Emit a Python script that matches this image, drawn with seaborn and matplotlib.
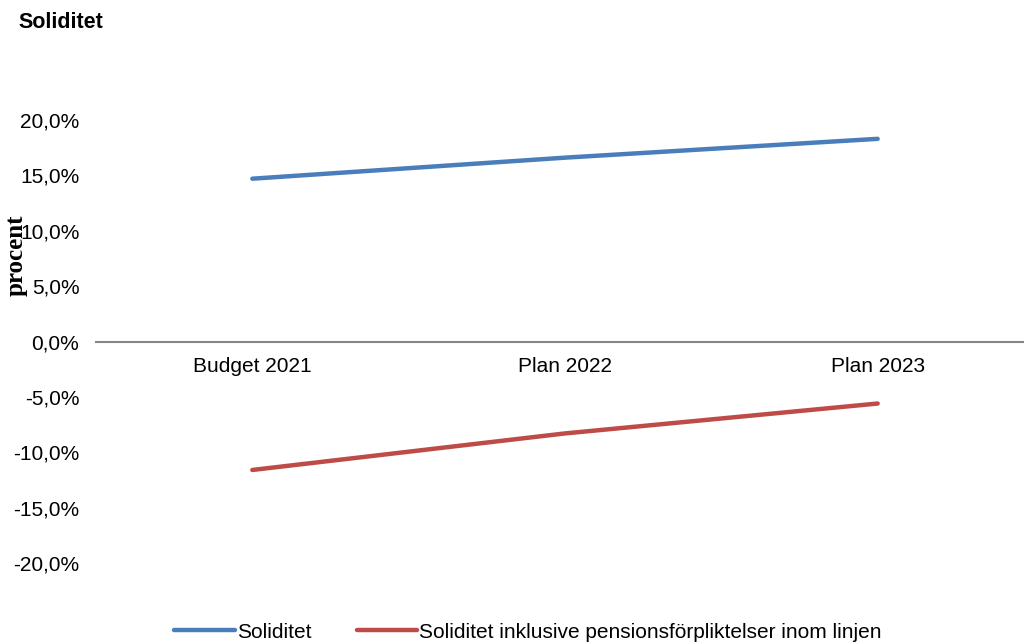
import matplotlib
matplotlib.use("Agg")
import matplotlib.pyplot as plt
import matplotlib.ticker as mticker
from matplotlib.lines import Line2D
import seaborn as sns
import pandas as pd

categories = ["Budget 2021", "Plan 2022", "Plan 2023"]
soliditet = [14.7, 16.6, 18.3]
soliditet_inkl = [-11.6, -8.3, -5.6]
series_names = ["Soliditet", "Soliditet inklusive pensionsförpliktelser inom linjen"]
y_ticks = [-20, -15, -10, -5, 0, 5, 10, 15, 20]

sns.set_theme(style="white")
plt.rcParams["font.family"] = ["Liberation Sans", "DejaVu Sans"]
plt.rcParams["text.color"] = "black"

df = pd.DataFrame({
    "Kategori": categories * 2,
    "Värde": soliditet + soliditet_inkl,
    "Serie": [series_names[0]] * 3 + [series_names[1]] * 3,
})
df["x"] = df["Kategori"].map({c: i for i, c in enumerate(categories)})

fig = plt.figure(figsize=(10.24, 6.44), dpi=100)
ax = fig.add_axes([96 / 1024, 1 - 563 / 644, (1034 - 96) / 1024, (563 - 120) / 644])

palette = {series_names[0]: "#4A7EBB", series_names[1]: "#BE4B48"}
sns.lineplot(data=df, x="x", y="Värde", hue="Serie", palette=palette,
             linewidth=3.2, ax=ax, legend=False, solid_capstyle="round")

ax.set_xlim(-0.5, 2.5)
ax.set_ylim(-20, 20)
ax.yaxis.set_major_locator(mticker.FixedLocator(y_ticks))
ax.yaxis.set_major_formatter(mticker.FuncFormatter(lambda v, p: f"{v:.1f}%".replace(".", ",")))
ax.set_xticks(range(len(categories)))
ax.set_xticklabels(categories)
for s in ["top", "right", "left"]:
    ax.spines[s].set_visible(False)
ax.spines["bottom"].set_position(("data", 0))
ax.spines["bottom"].set_color("#868686")
ax.spines["bottom"].set_linewidth(1.5)
ax.tick_params(axis="y", length=0, pad=12, labelsize=15, labelcolor="black")
ax.tick_params(axis="x", length=0, pad=11, labelsize=15, labelcolor="black")
ax.set_xlabel("")
ax.set_ylabel("")
ax.grid(False)

fig.text(18 / 1024, 1 - 22 / 644, "Soliditet", fontsize=15.5, fontweight="bold",
         ha="left", va="center", color="black")
fig.text(16 / 1024, 1 - 255 / 644, "procent", fontsize=18, fontweight="bold",
         family=["Liberation Serif", "DejaVu Serif"], rotation=90,
         ha="center", va="center", color="black")

handles = [Line2D([], [], color=palette[n], linewidth=3.2) for n in series_names]
fig.legend(handles, series_names, loc="center", bbox_to_anchor=(528 / 1024, 1 - 632 / 644),
           ncol=2, frameon=False, fontsize=15, handlelength=2.9, handletextpad=0.1,
           columnspacing=2.2, labelcolor="black")

fig.savefig("out.png", dpi=100)
